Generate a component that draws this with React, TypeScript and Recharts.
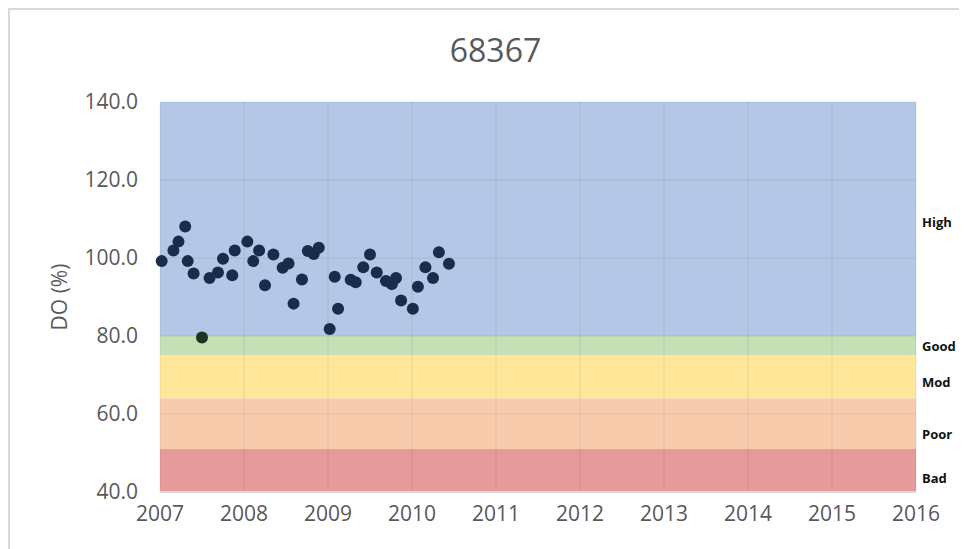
import {
  ScatterChart, Scatter, XAxis, YAxis, CartesianGrid,
  ReferenceArea, Label,
} from 'recharts'

// sampling dates as decimal years, DO saturation in %
const sampleYears = [
  2007.02, 2007.16, 2007.22, 2007.30, 2007.33, 2007.40, 2007.50, 2007.59, 2007.69, 2007.75,
  2007.86, 2007.89, 2008.04, 2008.11, 2008.18, 2008.25, 2008.35, 2008.46, 2008.53, 2008.59,
  2008.69, 2008.76, 2008.83, 2008.89, 2009.02, 2009.08, 2009.12, 2009.27, 2009.33, 2009.42,
  2009.50, 2009.58, 2009.69, 2009.76, 2009.81, 2009.87, 2010.01, 2010.07, 2010.16, 2010.25,
  2010.32, 2010.44,
]
const doValues = [
  99.2, 101.9, 104.2, 108.1, 99.2, 96.0, 79.6, 94.9, 96.3, 99.8,
  95.6, 101.9, 104.2, 99.2, 101.9, 93.0, 100.9, 97.5, 98.6, 88.3,
  94.5, 101.8, 101.0, 102.6, 81.8, 95.2, 87.0, 94.4, 93.8, 97.6,
  100.9, 96.3, 94.1, 93.3, 94.9, 89.1, 87.0, 92.6, 97.6, 94.9,
  101.5, 98.5,
]

const bandNames = ['High', 'Good', 'Mod', 'Poor', 'Bad']
const bandTops = [140, 80, 75, 64, 51]
const bandBottoms = [80, 75, 64, 51, 40]

const yearTicks = [2007, 2008, 2009, 2010, 2011, 2012, 2013, 2014, 2015, 2016]
const doTicks = [40, 60, 80, 100, 120, 140]

const bandColors = ['#b4c7e7', '#c5e0b4', '#ffe699', '#f8cbad', '#e69a9b']
const bandLabelNudge = [3, 1, 5, 11, 8]

const points = sampleYears.map((x, i) => ({ x, y: doValues[i] }))

const font = '"Open Sans", sans-serif'
const grey = '#595959'

function Dot(props: any) {
  const { cx, cy, payload } = props
  return <circle cx={cx} cy={cy} r={6} fill={payload.y >= 80 ? '#1b2b4b' : '#1e3320'} />
}

export default function App() {
  return (
    <div style={{ position: 'relative', width: 959, height: 541, fontFamily: font }}>
      <div style={{
        position: 'absolute', top: 22, left: 8, width: 959, textAlign: 'center',
        fontSize: 32, lineHeight: '40px', color: grey,
      }}>68367</div>
      <ScatterChart width={959} height={541} margin={{ top: 94, right: 51, left: 0, bottom: 27 }}>
        {bandNames.map((name, i) => (
          <ReferenceArea
            key={name}
            y1={bandBottoms[i]}
            y2={bandTops[i]}
            fill={bandColors[i]}
            fillOpacity={1}
            stroke="none"
            label={{
              value: name, position: 'right', offset: 6, dy: bandLabelNudge[i],
              fill: '#111', fontSize: 13, fontWeight: 700, fontFamily: font,
            }}
          />
        ))}
        <CartesianGrid stroke="#000" strokeOpacity={0.08} zIndex={150} />
        <XAxis
          type="number"
          dataKey="x"
          domain={[2007, 2016]}
          ticks={yearTicks}
          tickLine={false}
          tickSize={0}
          tickMargin={14}
          height={30}
          axisLine={{ stroke: '#d9d9d9', strokeWidth: 2 }}
          tick={{ fontSize: 21, fill: grey, fontFamily: font }}
        />
        <YAxis
          type="number"
          dataKey="y"
          domain={[40, 140]}
          ticks={doTicks}
          width={152}
          tickLine={false}
          axisLine={false}
          tickSize={0}
          tickMargin={22}
          tickFormatter={(v: number) => v.toFixed(1)}
          tick={{ fontSize: 21, fill: grey, fontFamily: font }}
        >
          <Label
            value="DO (%)"
            angle={-90}
            position="insideLeft"
            offset={52}
            style={{ textAnchor: 'middle', fontSize: 21, fill: grey, fontFamily: font }}
          />
        </YAxis>
        <Scatter data={points} shape={<Dot />} isAnimationActive={false} />
      </ScatterChart>
      <div style={{
        position: 'absolute', top: 0, left: 0, width: 959, height: 541, zIndex: 2, pointerEvents: 'none',
        borderTop: '2px solid #d9d9d9', borderLeft: '2px solid #d9d9d9', boxSizing: 'border-box',
      }} />
    </div>
  )
}
